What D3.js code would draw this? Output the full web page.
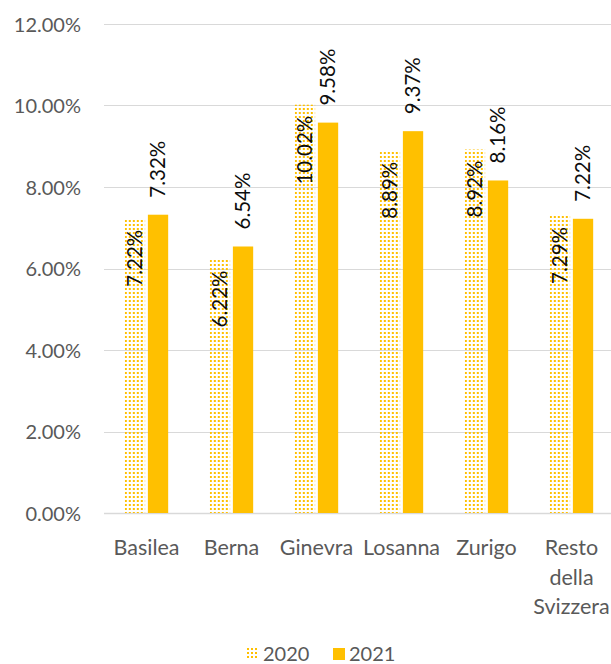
<!DOCTYPE html>
<html>
<head>
<meta charset="utf-8">
<script src="https://cdn.jsdelivr.net/npm/d3@7"></script>
<style>
  html, body { margin: 0; padding: 0; background: #fff; }
  svg { display: block; font-family: Lato, "Open Sans", sans-serif; }
</style>
</head>
<body>
<svg id="chart" width="611" height="664"></svg>
<script>
// Città e quote per anno
const categories = ["Basilea", "Berna", "Ginevra", "Losanna", "Zurigo", "Resto della Svizzera"];
const series = ["2020", "2021"];
const values2020 = [7.22, 6.22, 10.02, 8.89, 8.92, 7.29];
const values2021 = [7.32, 6.54, 9.58, 9.37, 8.16, 7.22];
const yTicks = [0, 2, 4, 6, 8, 10, 12];

const svg = d3.select("#chart");
const W = 611, H = 664;
const margin = { left: 104, right: -3, top: 24, bottom: 151 };
const gold = "#FFC000";

// Motivo a puntini per la serie 2020
const defs = svg.append("defs");
const pat = defs.append("pattern")
  .attr("id", "dots")
  .attr("patternUnits", "userSpaceOnUse")
  .attr("width", 4).attr("height", 4);
pat.append("rect").attr("x", 0).attr("y", 0).attr("width", 2).attr("height", 2).attr("fill", gold);

const x = d3.scaleBand()
  .domain(categories)
  .range([margin.left, W - margin.right])
  .paddingInner(0.49)
  .paddingOuter(0.245);

const sub = d3.scaleBand()
  .domain(series)
  .range([0, x.bandwidth()])
  .paddingInner(0.12);

const y = d3.scaleLinear()
  .domain([0, 12])
  .range([H - margin.bottom, margin.top]);

// Griglia orizzontale
svg.append("g")
  .selectAll("line")
  .data(yTicks)
  .join("line")
  .attr("x1", margin.left)
  .attr("x2", W)
  .attr("y1", d => Math.round(y(d)) + 0.5)
  .attr("y2", d => Math.round(y(d)) + 0.5)
  .attr("stroke", "#D9D9D9")
  .attr("stroke-width", d => d === 0 ? 1.5 : 1.2);

// Etichette asse Y
const yAxis = d3.axisLeft(y)
  .tickValues(yTicks)
  .tickSize(0)
  .tickPadding(0)
  .tickFormat(d => d3.format(".2f")(d) + "%");
svg.append("g")
  .attr("transform", `translate(${margin.left - 23},0)`)
  .call(yAxis)
  .call(g => g.select(".domain").remove())
  .call(g => g.selectAll("text")
    .attr("fill", "#595959")
    .attr("font-size", 20)
    .attr("font-family", "Lato, sans-serif")
    .attr("dy", "0.35em"));

const rows = categories.map((c, i) => ({ c, v: [values2020[i], values2021[i]] }));

// Barre
const groups = svg.append("g")
  .selectAll("g")
  .data(rows)
  .join("g")
  .attr("transform", d => `translate(${x(d.c)},0)`);

groups.selectAll("rect")
  .data(d => series.map((s, j) => ({ s, v: d.v[j] })))
  .join("rect")
  .attr("x", d => sub(d.s))
  .attr("width", sub.bandwidth())
  .attr("y", d => y(d.v))
  .attr("height", d => y(0) - y(d.v))
  .attr("fill", d => d.s === "2020" ? "url(#dots)" : gold);

// Etichette dei valori (ruotate)
groups.selectAll("text")
  .data(d => series.map((s, j) => ({ s, v: d.v[j] })))
  .join("text")
  .attr("transform", d => {
    const cx = sub(d.s) + sub.bandwidth() / 2;
    const cy = d.s === "2020" ? y(d.v) + 11 : y(d.v) - 17;
    return `translate(${cx},${cy}) rotate(-90)`;
  })
  .attr("text-anchor", d => d.s === "2020" ? "end" : "start")
  .attr("dy", "0.35em")
  .attr("font-size", 20.5)
  .attr("fill", "#0D0D0D")
  .text(d => d3.format(".2f")(d.v) + "%");

// Etichette delle categorie, a capo se necessario
const wrapLines = { "Resto della Svizzera": ["Resto", "della", "Svizzera"] };
svg.append("g")
  .selectAll("text")
  .data(categories)
  .join("text")
  .attr("x", d => x(d) + x.bandwidth() / 2)
  .attr("y", 555)
  .attr("text-anchor", "middle")
  .attr("font-size", 21.5)
  .attr("fill", "#595959")
  .each(function (d) {
    const lines = wrapLines[d] || [d];
    d3.select(this).selectAll("tspan")
      .data(lines)
      .join("tspan")
      .attr("x", x(d) + x.bandwidth() / 2)
      .attr("dy", (l, i) => i === 0 ? 0 : 29.5)
      .text(l => l);
  });

// Legenda
const legend = svg.append("g").attr("transform", "translate(247,648)");
const items = [{ s: "2020", fill: "url(#dots)", x: 0 }, { s: "2021", fill: gold, x: 86 }];
const li = legend.selectAll("g").data(items).join("g")
  .attr("transform", d => `translate(${d.x},0)`);
li.append("rect").attr("width", 12).attr("height", 12).attr("fill", d => d.fill);
li.append("text")
  .attr("x", 16).attr("y", 6).attr("dy", "0.36em")
  .attr("font-size", 20).attr("fill", "#595959")
  .text(d => d.s);
</script>
</body>
</html>
